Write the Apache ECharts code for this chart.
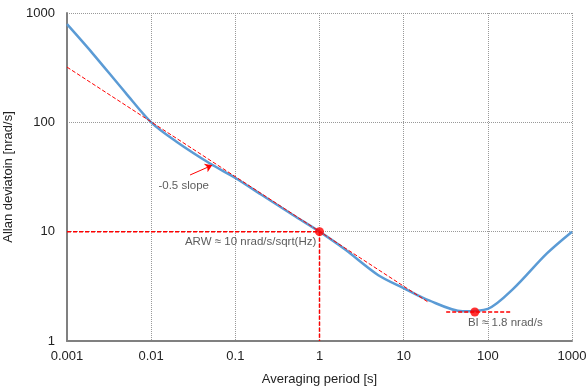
<!DOCTYPE html>
<html>
<head>
<meta charset="utf-8">
<script src="https://cdn.jsdelivr.net/npm/echarts@6/dist/echarts.min.js"></script>
<style>
  html, body { margin: 0; padding: 0; background: #fff; }
  #chart { width: 586px; height: 387px; }
</style>
</head>
<body>
<div id="chart"></div>
<script>
// averaging period [s] and Allan deviation [nrad/s]
const tau = [0.001, 0.002, 0.005, 0.01, 0.02, 0.05, 0.1, 0.2, 0.5, 1, 2, 5, 10, 20, 50, 100, 200, 500, 1000]
const adev = [790, 430, 185, 100, 66.5, 42, 31, 22, 14, 10, 6.9, 4.0, 3.05, 2.35, 1.87, 1.97, 3.0, 6.3, 10]

// -0.5 slope reference line
const slopeLine = [[0.001, 320], [19.5, 2.27]]
// ARW guides
const arwH = [[0.001, 10], [1, 10]]
const arwV = [[1, 10], [1, 1]]
// bias instability guide
const biLine = [[32, 1.84], [185, 1.84]]
const marks = [[1, 10], [70, 1.84]]

// annotations [x, y, text]
const notes = [
  [0.0122, 26.5, '-0.5 slope'],
  [0.0252, 8.1, 'ARW \u2248 10 nrad/s/sqrt(Hz)'],
  [58, 1.48, 'BI \u2248 1.8 nrad/s']
]
const arrow = [[0.029, 33], [0.053, 40.5]]

const xTicks = ['0.001', '0.01', '0.1', '1', '10', '100', '1000']
const yTicks = ['1', '10', '100', '1000']

const red = '#FF0000'
const dash = [4, 2]

const chart = echarts.init(document.getElementById('chart'))
const option = {
  animation: false,
  textStyle: { fontFamily: 'Liberation Sans, Arial, sans-serif' },
  grid: { left: 67, right: 14, top: 13, bottom: 46, outerBoundsMode: 'none', containLabel: false },
  xAxis: {
    type: 'log',
    logBase: 10,
    min: 0.001,
    max: 1000,
    name: 'Averaging period [s]',
    nameLocation: 'middle',
    nameGap: 32,
    nameTextStyle: { fontSize: 13, color: '#222' },
    axisLine: { lineStyle: { color: '#808080', width: 2 } },
    axisTick: { show: false },
    axisLabel: {
      fontSize: 13,
      color: '#222',
      margin: 9,
      formatter: v => xTicks[Math.round(Math.log10(v)) + 3]
    },
    splitLine: { show: true, lineStyle: { color: '#999', type: 'dotted', width: 1 } }
  },
  yAxis: {
    type: 'log',
    logBase: 10,
    min: 1,
    max: 1000,
    name: 'Allan deviatoin [nrad/s]',
    nameLocation: 'middle',
    nameGap: 50,
    nameTextStyle: { fontSize: 13, color: '#222' },
    axisLine: { show: true, lineStyle: { color: '#808080', width: 2 } },
    axisTick: { show: false },
    axisLabel: {
      fontSize: 13,
      color: '#222',
      margin: 12,
      formatter: v => yTicks[Math.round(Math.log10(v))]
    },
    splitLine: { show: true, lineStyle: { color: '#999', type: 'dotted', width: 1 } }
  },
  series: [
    {
      type: 'line',
      data: slopeLine,
      symbol: 'none',
      lineStyle: { color: red, width: 1, type: dash },
      z: 3
    },
    {
      type: 'line',
      data: tau.map((t, i) => [t, adev[i]]),
      symbol: 'none',
      smooth: 0.3,
      lineStyle: { color: '#5B9BD5', width: 2.5 },
      z: 2
    },
    {
      type: 'line',
      data: arwH,
      symbol: 'none',
      lineStyle: { color: red, width: 1.5, type: dash },
      z: 3
    },
    {
      type: 'line',
      data: arwV,
      symbol: 'none',
      lineStyle: { color: red, width: 1.5, type: dash },
      z: 3
    },
    {
      type: 'line',
      data: biLine,
      symbol: 'none',
      lineStyle: { color: red, width: 1.5, type: dash },
      z: 3
    },
    {
      type: 'scatter',
      data: marks,
      symbolSize: 9,
      itemStyle: { color: red },
      z: 4
    },
    {
      type: 'lines',
      coordinateSystem: 'cartesian2d',
      data: [{ coords: arrow }],
      symbol: ['none', 'arrow'],
      symbolSize: 7,
      lineStyle: { color: red, width: 1, opacity: 1 },
      z: 4
    },
    {
      type: 'scatter',
      data: notes.map(n => ({ value: [n[0], n[1]], name: n[2] })),
      symbolSize: 0,
      silent: true,
      label: {
        show: true,
        position: 'right',
        distance: 0,
        formatter: p => p.name,
        fontSize: 11.5,
        color: '#333'
      },
      z: 5
    }
  ]
}
chart.setOption(option)
</script>
</body>
</html>
